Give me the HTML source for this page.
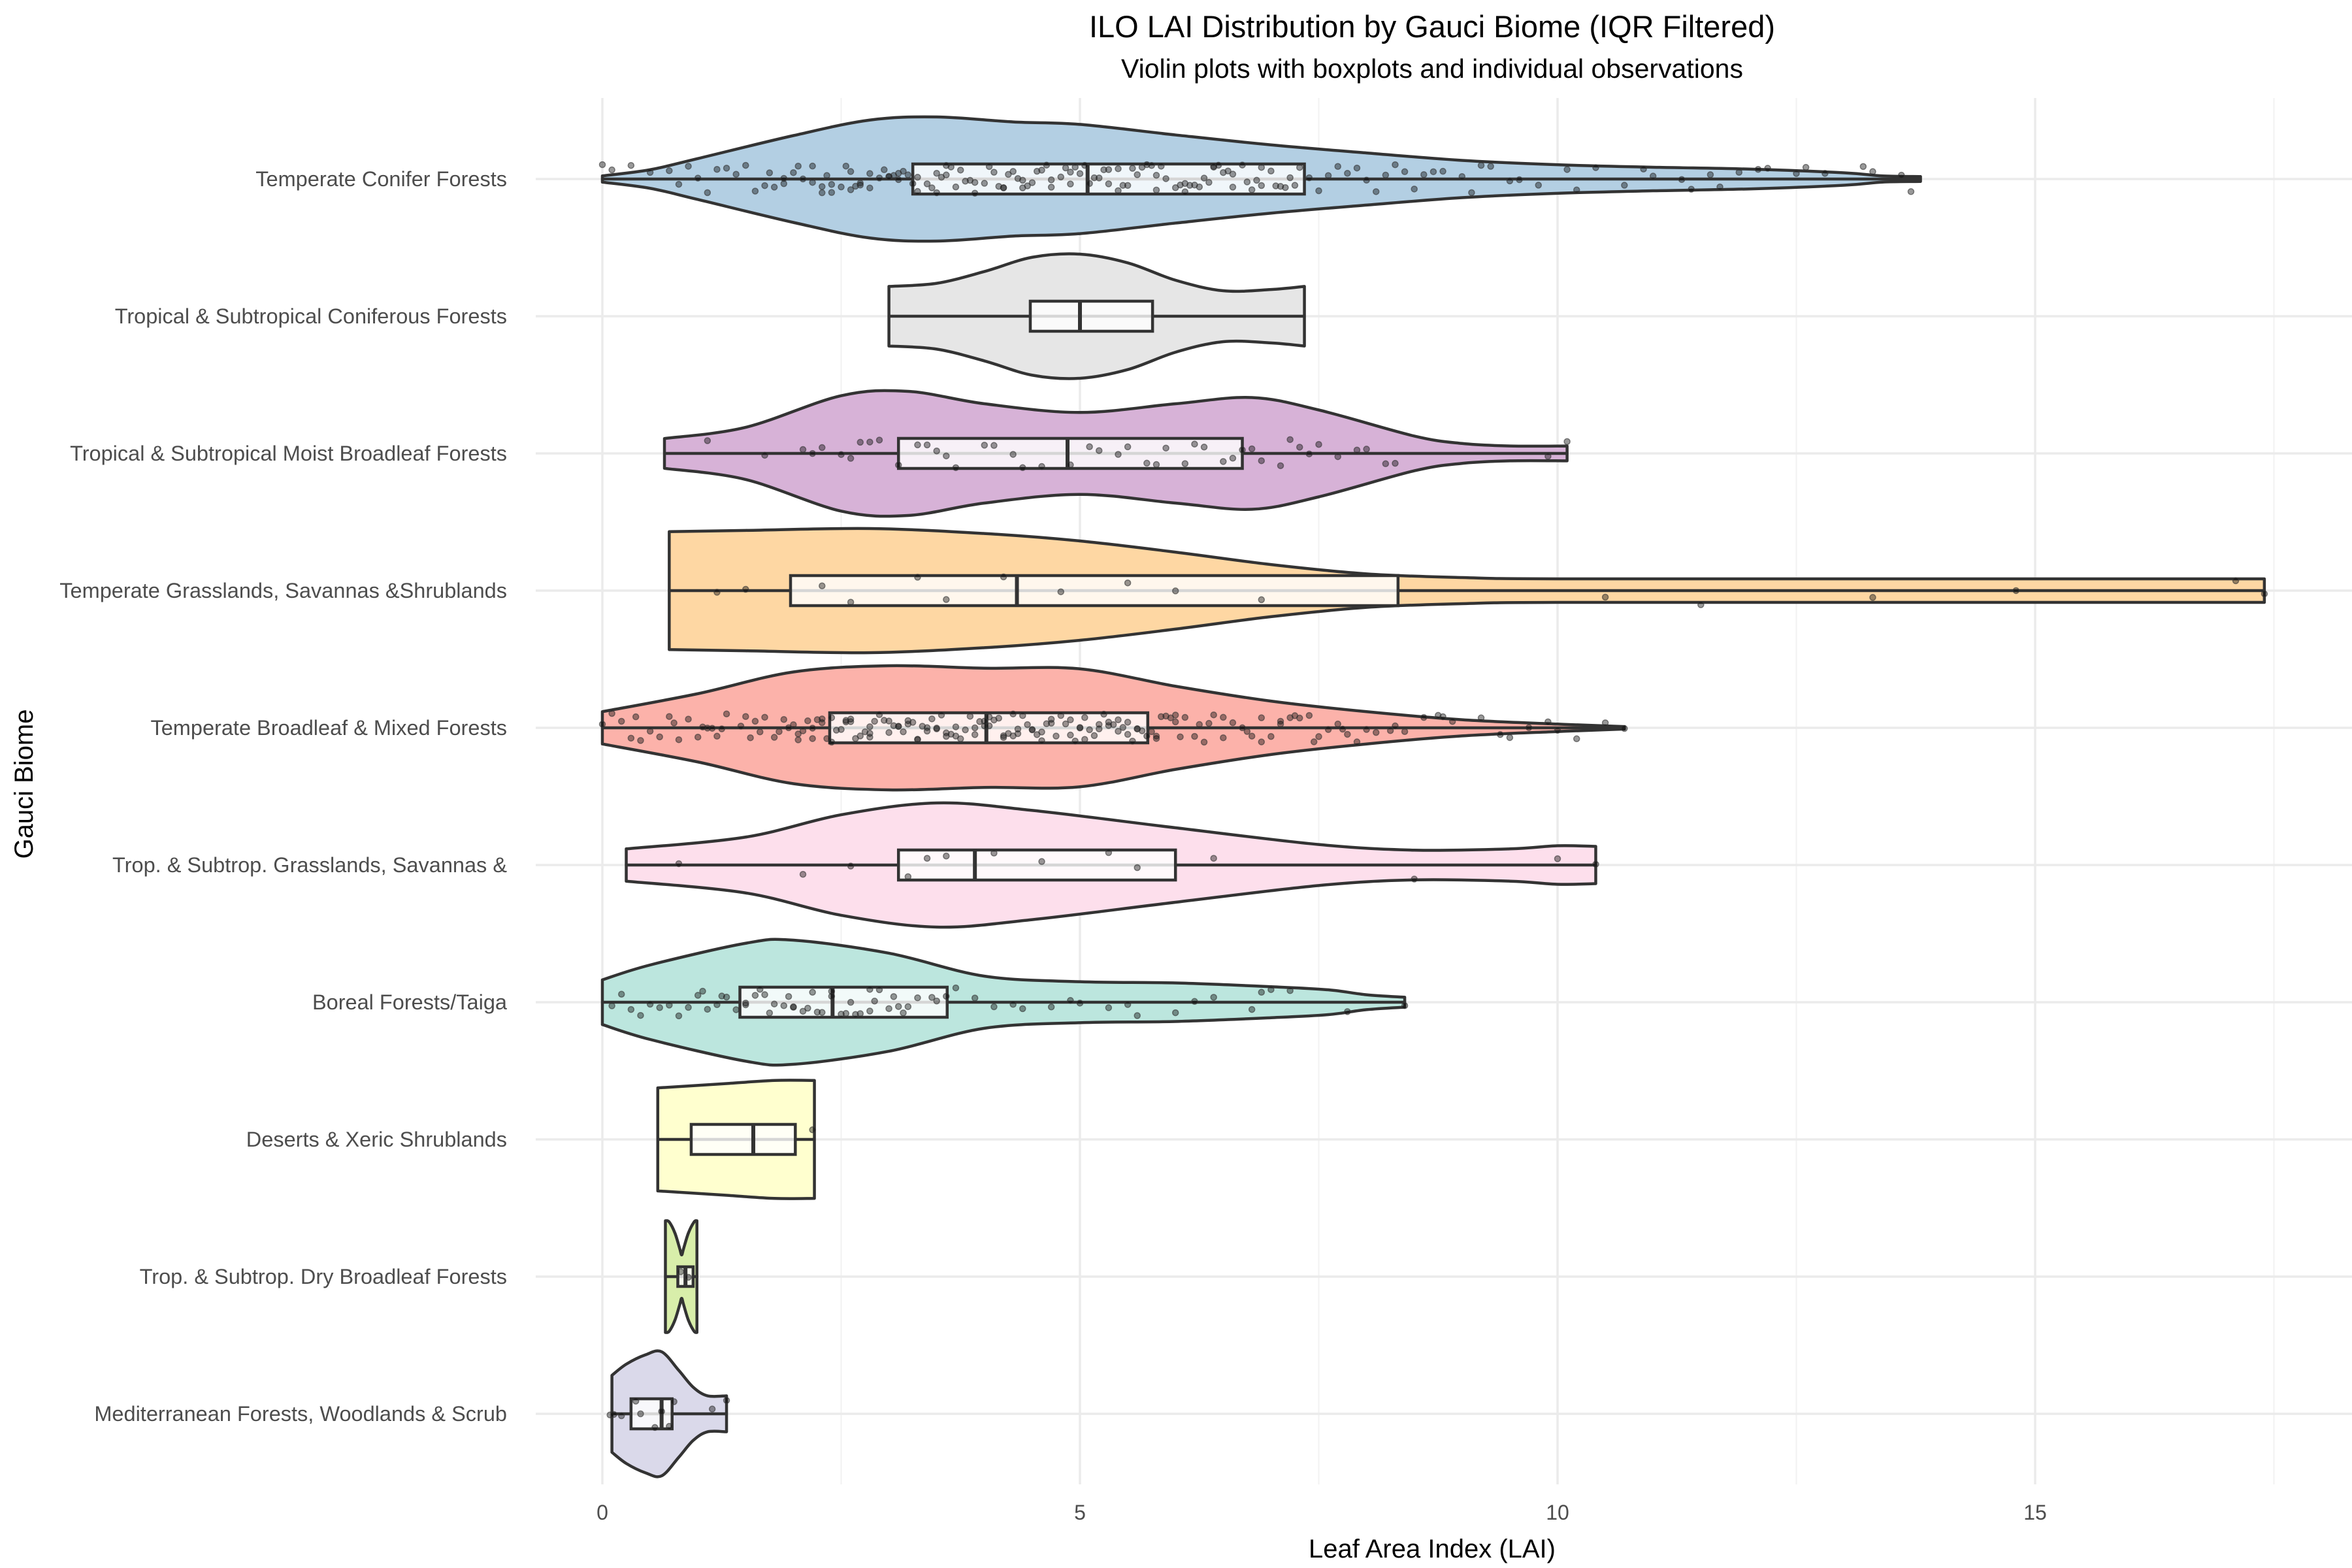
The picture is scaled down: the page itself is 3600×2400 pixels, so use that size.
<!DOCTYPE html>
<html><head><meta charset="utf-8"><style>
html,body{margin:0;padding:0;background:#fff;}
svg{display:block;font-family:"Liberation Sans",sans-serif;}
</style></head><body>
<svg id="chart" width="3600" height="2400" viewBox="0 0 3600 2400" xmlns="http://www.w3.org/2000/svg">
<text x="2192" y="57" font-size="47" text-anchor="middle" fill="#000">ILO LAI Distribution by Gauci Biome (IQR Filtered)</text>
<text x="2192" y="119" font-size="41" text-anchor="middle" fill="#000">Violin plots with boxplots and individual observations</text>
<g id="grid"></g>
<g id="marks"></g>
<g id="axes"></g>
<text x="2192" y="2384" font-size="40" text-anchor="middle" fill="#000">Leaf Area Index (LAI)</text>
<text transform="translate(50,1200) rotate(-90)" font-size="40" text-anchor="middle" fill="#000">Gauci Biome</text>
</svg>
<script>
const categories = ["Temperate Conifer Forests","Tropical & Subtropical Coniferous Forests","Tropical & Subtropical Moist Broadleaf Forests","Temperate Grasslands, Savannas &Shrublands","Temperate Broadleaf & Mixed Forests","Trop. & Subtrop. Grasslands, Savannas &","Boreal Forests/Taiga","Deserts & Xeric Shrublands","Trop. & Subtrop. Dry Broadleaf Forests","Mediterranean Forests, Woodlands & Scrub"];
const fills = ["#b3cfe3","#e6e6e6","#d7b2d7","#fed7a3","#fcb2aa","#fddfec","#bce6de","#ffffcf","#d8eeaa","#dad9ea"];
const xTicks = [0,5,10,15];
const xMinor = [2.5,7.5,12.5,17.5];
// box stats: [min, q1, median, q3, max]
const boxStats = [
 [0,3.25,5.08,7.35,13.8],[3.0,4.48,5.0,5.76,7.35],[0.65,3.1,4.87,6.7,10.1],[0.7,1.97,4.34,8.33,17.4],
 [0,2.38,4.02,5.71,10.7],[0.25,3.1,3.9,6.0,10.4],[0,1.44,2.41,3.61,8.4],[0.58,0.93,1.58,2.02,2.22],
 [0.66,0.79,0.87,0.95,0.99],[0.1,0.3,0.62,0.73,1.3]];
// violin density profiles: [LAI, relative half-width]
const profiles = [
 [[0,0.05],[0.5,0.15],[1,0.33],[2,0.7],[2.8,0.95],[3.5,1],[4.3,0.92],[5,0.88],[6,0.71],[7,0.55],[8,0.42],[9,0.3],[10,0.23],[11,0.19],[12,0.16],[13,0.1],[13.4,0.05],[13.8,0.04]],
 [[3.0,0.48],[3.5,0.53],[4.0,0.72],[4.5,0.95],[5.0,1],[5.5,0.86],[6.0,0.58],[6.5,0.41],[7.0,0.43],[7.35,0.48]],
 [[0.65,0.24],[1.5,0.42],[2.5,0.93],[3.2,1],[4.0,0.8],[5.0,0.66],[6.0,0.8],[6.8,0.9],[7.5,0.7],[8.5,0.28],[9.0,0.16],[9.5,0.12],[10.1,0.12]],
 [[0.7,0.95],[1.5,0.97],[2.8,1],[4,0.92],[5,0.8],[6,0.62],[7,0.42],[8,0.27],[9,0.21],[10,0.19],[14,0.19],[17.4,0.19]],
 [[0,0.26],[1,0.55],[2,0.9],[3,1],[4,0.96],[5,0.95],[6,0.67],[7,0.43],[8,0.26],[9,0.13],[10,0.06],[10.7,0.02]],
 [[0.25,0.26],[1.5,0.45],[2.5,0.81],[3.5,1],[4.5,0.88],[6,0.6],[7.5,0.33],[8.5,0.24],[9.5,0.26],[10.0,0.31],[10.4,0.3]],
 [[0,0.36],[0.5,0.6],[1.5,0.95],[2.0,1],[3.0,0.79],[4.0,0.42],[5,0.33],[6,0.31],[7,0.25],[7.6,0.2],[8.0,0.12],[8.4,0.08]],
 [[0.58,0.83],[0.9,0.86],[1.3,0.9],[1.8,0.95],[2.22,0.95]],
 [[0.66,0.9],[0.7,0.88],[0.76,0.7],[0.81,0.45],[0.83,0.35],[0.85,0.45],[0.9,0.7],[0.96,0.88],[0.99,0.9]],
 [[0.1,0.62],[0.25,0.8],[0.45,0.95],[0.62,1],[0.8,0.7],[0.95,0.43],[1.1,0.29],[1.3,0.29]]];
// observations (approximate)
const obsConifer = [0,0.1,0.3,0.5,0.7,0.9,1.1,1.3,1.4,1.6,1.7,1.8,1.9,2.0,2.1,2.2,2.3,2.4,2.5,2.6,2.6,2.7,2.8,2.9,3.0,3.1,3.2,3.3,3.4,3.5,3.5,3.6,3.7,3.8,3.9,4.0,4.1,4.2,4.3,4.4,4.5,4.6,4.7,4.8,4.9,5.0,5.1,5.2,5.3,5.4,5.5,5.6,5.7,5.8,5.9,6.0,6.1,6.2,6.3,6.4,6.5,6.6,6.7,6.8,6.9,7.0,7.1,7.2,7.4,7.6,7.8,8.0,8.2,8.4,8.6,8.8,9.0,9.2,9.5,9.8,10.1,10.4,10.7,11.0,11.3,11.6,11.9,12.2,12.5,12.8,13.2,13.7,1.5,2.2,2.8,3.3,3.9,4.4,4.9,5.4,6.1,6.6,7.3,2.4,3.0,3.6,4.2,4.7,5.3,5.8,6.4,6.9,1.2,1.9,2.3,2.7,3.1,3.45,3.75,4.05,4.35,4.65,4.95,5.25,5.55,5.85,6.15,6.45,6.75,7.05,7.5,7.9,8.3,8.7,9.1,9.6,10.2,10.9,11.7,12.6,13.3,2.05,2.55,3.05,3.55,4.15,4.55,5.15,5.65,6.25,6.85,7.7,8.5,0.8,1.0,1.75,2.35,2.95,3.25,3.65,4.25,4.85,5.45,6.05,6.55,7.15,8.1,9.3,11.4,12.1,13.6,2.65,3.15,3.85,4.45,5.05,5.75,6.35,7.25];
const obsConiferous = [];
const obsMoist = [1.1,1.7,2.1,2.3,2.5,2.7,2.9,3.1,3.3,3.5,3.7,4.0,4.3,4.6,4.9,5.1,5.4,5.7,5.9,6.1,6.3,6.5,6.7,6.9,7.1,7.4,7.7,8.0,8.3,9.9,10.1,2.6,3.4,5.5,6.6,7.2,2.2,2.8,3.6,4.1,4.4,5.2,5.8,6.2,6.8,7.3,7.5,7.9,8.2];
const obsGrass = [1.2,1.5,2.3,2.6,3.3,3.6,4.2,4.8,5.5,6.0,6.9,10.5,11.5,14.8,13.3,17.1,17.4];
const obsBroadleaf = [0,0.2,0.4,0.5,0.7,0.9,1.0,1.2,1.3,1.5,1.6,1.8,1.9,2.0,2.1,2.2,2.3,2.4,2.5,2.6,2.7,2.8,2.9,3.0,3.1,3.2,3.3,3.4,3.5,3.6,3.7,3.8,3.9,4.0,4.1,4.2,4.3,4.4,4.5,4.6,4.7,4.8,4.9,5.0,5.1,5.2,5.3,5.4,5.5,5.6,5.7,5.8,5.9,6.0,6.1,6.2,6.4,6.6,6.8,7.0,7.2,7.4,7.6,7.8,8.0,8.3,8.6,8.9,9.2,9.5,9.9,10.2,10.5,10.7,1.1,1.7,2.2,2.6,3.0,3.3,3.6,4.0,4.3,4.6,5.0,5.3,5.6,6.0,6.5,7.1,2.4,2.8,3.2,3.5,3.9,4.2,4.5,4.9,5.2,5.5,0.1,0.3,0.6,0.8,1.05,1.25,1.45,1.65,1.85,2.05,2.25,2.45,2.65,2.85,3.05,3.25,3.45,3.65,3.85,4.05,4.25,4.45,4.65,4.85,5.05,5.25,5.45,5.65,5.85,6.05,6.3,6.5,6.7,6.9,7.1,7.3,7.5,7.7,7.9,8.1,8.4,8.8,9.4,10.0,0.35,0.75,1.15,1.55,1.95,2.15,2.35,2.55,2.75,2.95,3.15,3.35,3.55,3.75,3.95,4.15,4.35,4.55,4.75,4.95,5.15,5.35,5.55,5.75,5.95,6.25,6.75,7.25,7.75,8.25,8.75,9.7,2.05,2.3,2.55,2.8,3.1,3.4,3.7,4.05,4.35,4.7,5.05,5.4,5.8,6.35,6.9,7.45];
const obsTropGrass = [0.8,2.1,2.6,3.2,3.4,3.6,4.1,4.6,5.3,5.6,6.4,8.5,10.0,10.4];
const obsBoreal = [0.1,0.3,0.5,0.6,0.8,0.9,1.0,1.1,1.2,1.3,1.4,1.5,1.6,1.7,1.8,1.9,2.0,2.1,2.2,2.3,2.4,2.5,2.6,2.7,2.8,2.9,3.0,3.1,3.2,3.3,3.5,3.7,3.9,4.1,4.4,4.7,5.0,5.3,5.6,6.0,6.4,6.8,7.0,7.2,7.8,8.4,1.5,2.0,2.4,2.8,0.2,0.7,1.25,1.65,1.95,2.25,2.55,2.85,3.15,3.45,4.3,4.9,5.5,6.2,6.9,0.4,1.05,1.75,2.15,2.65,3.05,3.6];
const obsDesert = [2.2];
const obsDry = [0.82,0.9];
const obsMed = [0.08,0.12,0.2,0.35,0.4,0.55,0.62,0.7,0.75,1.15,1.3];
const observations = [obsConifer,obsConiferous,obsMoist,obsGrass,obsBroadleaf,obsTropGrass,obsBoreal,obsDesert,obsDry,obsMed];

const NS="http://www.w3.org/2000/svg";
const X0=922, PX=146.2, Y0=274, ROW=210, HALF=95;
const xs=v=>X0+v*PX;
const ys=i=>Y0+i*ROW;
const PL=820, PR=3600, PT=150, PB=2272;
function mk(tag,attrs,parent){const e=document.createElementNS(NS,tag);for(const k in attrs)e.setAttribute(k,attrs[k]);parent.appendChild(e);return e;}
const grid=document.getElementById('grid'),marks=document.getElementById('marks'),axes=document.getElementById('axes');
xMinor.forEach(t=>{const l=mk('line',{x1:xs(t),x2:xs(t),y1:PT,y2:PB,stroke:'#f2f2f2','stroke-width':2},grid);

});
xTicks.forEach(t=>{const l=mk('line',{x1:xs(t),x2:xs(t),y1:PT,y2:PB,stroke:'#ebebeb','stroke-width':3.5},grid);


const tx=mk('text',{x:xs(t),y:2326,'font-size':32,'text-anchor':'middle',fill:'#4d4d4d'},axes);tx.textContent=t;

});
categories.forEach((c,i)=>{const l=mk('line',{x1:PL,x2:PR,y1:ys(i),y2:ys(i),stroke:'#ebebeb','stroke-width':3.5},grid);


const tx=mk('text',{x:776,y:ys(i)+11,'font-size':32.5,'text-anchor':'end',fill:'#4d4d4d'},axes);tx.textContent=c;

});
function jit(i,k){const s=Math.sin(i*12.9898+k*78.233)*43758.5453;return (s-Math.floor(s))*2-1;}
function smooth(pts){ // catmull-rom through pts, continuing from current point
 let d='';
 for(let k=0;k<pts.length-1;k++){
  const p0=pts[Math.max(k-1,0)],p1=pts[k],p2=pts[k+1],p3=pts[Math.min(k+2,pts.length-1)];
  const c1=[p1[0]+(p2[0]-p0[0])/6,p1[1]+(p2[1]-p0[1])/6];
  const c2=[p2[0]-(p3[0]-p1[0])/6,p2[1]-(p3[1]-p1[1])/6];
  d+=' C'+c1[0]+','+c1[1]+' '+c2[0]+','+c2[1]+' '+p2[0]+','+p2[1];
 }
 return d;
}
categories.forEach((c,i)=>{
 const g=mk('g',{},marks);
 
 
 const p=profiles[i],cy=ys(i);
 const top=p.map(q=>[xs(q[0]),cy-q[1]*HALF]);
 const bot=p.map(q=>[xs(q[0]),cy+q[1]*HALF]).reverse();
 let d='M'+top[0][0]+','+top[0][1]+smooth(top)+' L'+bot[0][0]+','+bot[0][1]+smooth(bot)+'Z';
 const v=mk('path',{d:d,fill:fills[i],stroke:'#333','stroke-width':4.5,'stroke-linejoin':'round'},g);
 
 
 const b=boxStats[i],bh=(i===8?15:23);
 const w=mk('line',{x1:xs(b[0]),x2:xs(b[4]),y1:cy,y2:cy,stroke:'#333','stroke-width':4.5},g);
 
 
 const r=mk('rect',{x:xs(b[1]),y:cy-bh,width:xs(b[3])-xs(b[1]),height:2*bh,fill:'#fff','fill-opacity':0.8,stroke:'#333','stroke-width':4.5},g);
 
 
 const m=mk('line',{x1:xs(b[2]),x2:xs(b[2]),y1:cy-bh,y2:cy+bh,stroke:'#333','stroke-width':6},g);
 
 
 observations[i].forEach((o,k)=>{
  const pt=mk('circle',{cx:xs(o),cy:cy+jit(i,k)*22,r:4.5,fill:'#000','fill-opacity':0.4,stroke:'#333','stroke-opacity':0.6,'stroke-width':1.5},g);
  
  
 });
});
</script>
</body></html>
